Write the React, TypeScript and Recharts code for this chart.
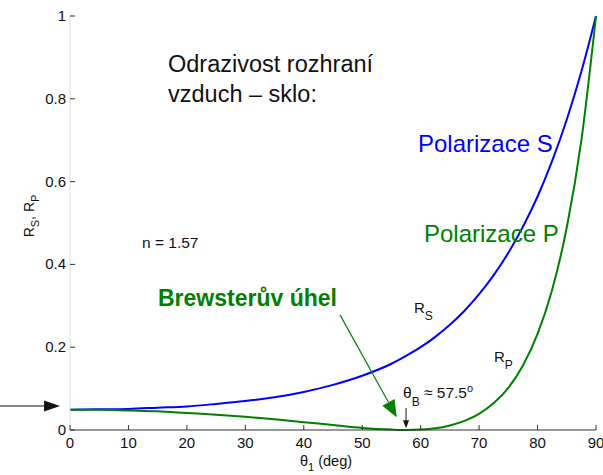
import { LineChart, Line, XAxis, YAxis, ReferenceLine } from 'recharts';

// angle of incidence (deg)
const angles = [0, 5, 10, 15, 20, 25, 30, 35, 40, 45, 50, 55, 57.5, 60, 62.5, 65, 67.5, 70, 72.5, 75, 77.5, 80, 82.5, 85, 87.5, 90];
// reflectance, s polarisation
const rs = [0.049, 0.05, 0.051, 0.054, 0.057, 0.063, 0.07, 0.079, 0.092, 0.109, 0.131, 0.16, 0.179, 0.2, 0.225, 0.254, 0.288, 0.328, 0.374, 0.428, 0.491, 0.564, 0.65, 0.75, 0.866, 1];
// reflectance, p polarisation
const rp = [0.049, 0.049, 0.047, 0.045, 0.041, 0.037, 0.032, 0.026, 0.019, 0.012, 0.005, 0.001, 0, 0.001, 0.004, 0.011, 0.022, 0.039, 0.065, 0.102, 0.156, 0.232, 0.339, 0.489, 0.7, 1];

const xTicks = [0, 10, 20, 30, 40, 50, 60, 70, 80, 90];
const yTicks = [0, 0.2, 0.4, 0.6, 0.8, 1];

const BLUE = '#0000ff';
const GREEN = '#008000';
const FONT = '"Liberation Sans", Arial, sans-serif';

const data = angles.map((a, i) => ({ angle: a, rs: rs[i], rp: rp[i] }));

const BottomTick = ({ x, y, payload }: any) => (
    <g>
        <line x1={x} x2={x} y1={y} y2={y - 5} stroke="#333" />
        <text x={x} y={y + 18} textAnchor="middle" fontSize={15} fill="#111" fontFamily={FONT}>{payload.value}</text>
    </g>
);
const TopTick = ({ x, y }: any) => <line x1={x} x2={x} y1={y} y2={y + 5} stroke="#333" />;
const LeftTick = ({ x, y, payload }: any) => (
    <g>
        <line x1={x} x2={x + 5} y1={y} y2={y} stroke="#333" />
        <text x={x - 4} y={y + 5} textAnchor="end" fontSize={15} fill="#111" fontFamily={FONT}>{String(payload.value)}</text>
    </g>
);
const RightTick = ({ x, y }: any) => <line x1={x} x2={x - 5} y1={y} y2={y} stroke="#333" />;

const arrow = (color: string, len: number, half: number, sw: number) => (p: any) => {
    const { x1, y1, x2, y2 } = p;
    const a = Math.atan2(y2 - y1, x2 - x1);
    const bx = x2 - len * Math.cos(a);
    const by = y2 - len * Math.sin(a);
    const nx = -Math.sin(a) * half;
    const ny = Math.cos(a) * half;
    return (
        <g>
            <line x1={x1} y1={y1} x2={bx} y2={by} stroke={color} strokeWidth={sw} />
            <polygon points={`${x2},${y2} ${bx + nx},${by + ny} ${bx - nx},${by - ny}`} fill={color} />
        </g>
    );
};

export default function App() {
    return (
        <div style={{ position: 'absolute', left: 0, top: 0, width: 603, height: 475, background: '#fff' }}>
            <LineChart width={603} height={475} data={data} margin={{ top: 16, right: 7, bottom: 20, left: 10 }}>
                <XAxis xAxisId="b" dataKey="angle" type="number" domain={[0, 90]} ticks={xTicks}
                    height={25} tickSize={0} tickMargin={0} tickLine={false} tick={<BottomTick />}
                    axisLine={{ stroke: '#333' }} interval={0} />
                <XAxis xAxisId="t" orientation="top" dataKey="angle" type="number" domain={[0, 90]} ticks={xTicks}
                    height={0} tickSize={0} tickMargin={0} tickLine={false} tick={<TopTick />}
                    axisLine={{ stroke: '#333' }} interval={0} />
                <YAxis yAxisId="l" type="number" domain={[0, 1]} ticks={yTicks} width={60}
                    tickSize={0} tickMargin={0} tickLine={false} tick={<LeftTick />}
                    axisLine={{ stroke: '#ddd' }} interval={0} />
                <YAxis yAxisId="r" orientation="right" type="number" domain={[0, 1]} ticks={yTicks} width={0}
                    tickSize={0} tickMargin={0} tickLine={false} tick={<RightTick />}
                    axisLine={{ stroke: '#222' }} interval={0} />
                <Line xAxisId="b" yAxisId="l" type="monotone" dataKey="rs" stroke={BLUE} strokeWidth={2} dot={false} isAnimationActive={false} />
                <Line xAxisId="b" yAxisId="l" type="monotone" dataKey="rp" stroke={GREEN} strokeWidth={2} dot={false} isAnimationActive={false} />
                <ReferenceLine xAxisId="b" yAxisId="l" ifOverflow="visible"
                    segment={[{ x: 46.2, y: 0.278 }, { x: 55.9, y: 0.031 }]} shape={arrow(GREEN, 17, 7, 1.2)} />
                <ReferenceLine xAxisId="b" yAxisId="l" ifOverflow="visible"
                    segment={[{ x: 57.5, y: 0.053 }, { x: 57.5, y: 0.004 }]} shape={arrow('#111', 8, 3, 1)} />
                <ReferenceLine xAxisId="b" yAxisId="l" ifOverflow="visible"
                    segment={[{ x: -12, y: 0.058 }, { x: -1.7, y: 0.058 }]} shape={arrow('#111', 16, 5.5, 1.2)} />
            </LineChart>
            <svg width={603} height={475} style={{ position: 'absolute', left: 0, top: 0, pointerEvents: 'none' }} fontFamily={FONT}>
                <text x={168} y={72} fontSize={23.5} fill="#111">Odrazivost rozhraní</text>
                <text x={168} y={102} fontSize={23.5} fill="#111">vzduch – sklo:</text>
                <text x={418} y={152} fontSize={24} fill={BLUE}>Polarizace S</text>
                <text x={424} y={242} fontSize={24} fill={GREEN}>Polarizace P</text>
                <text x={142} y={248} fontSize={15.5} fill="#111">n = 1.57</text>
                <text x={158} y={306} fontSize={23} fontWeight="bold" fill={GREEN}>Brewsterův úhel</text>
                <text x={414} y={313} fontSize={15} fill="#111">R<tspan fontSize={12} dy={7}>S</tspan></text>
                <text x={494} y={362} fontSize={15} fill="#111">R<tspan fontSize={12} dy={7}>P</tspan></text>
                <text x={403} y={398} fontSize={15.5} fill="#111">
                    θ<tspan fontSize={12} dy={8}>B</tspan><tspan dy={-8}> ≈ 57.5</tspan><tspan fontSize={11} dy={-6}>o</tspan>
                </text>
                <text x={300} y={466} fontSize={14.5} fill="#111">θ<tspan fontSize={11} dy={5}>1</tspan><tspan dy={-5}> (deg)</tspan></text>
                <text transform="translate(34,216) rotate(-90)" textAnchor="middle" fontSize={14} fill="#111">
                    R<tspan fontSize={11} dy={5}>S</tspan><tspan dy={-5}>, R</tspan><tspan fontSize={11} dy={5}>P</tspan>
                </text>
            </svg>
        </div>
    );
}
